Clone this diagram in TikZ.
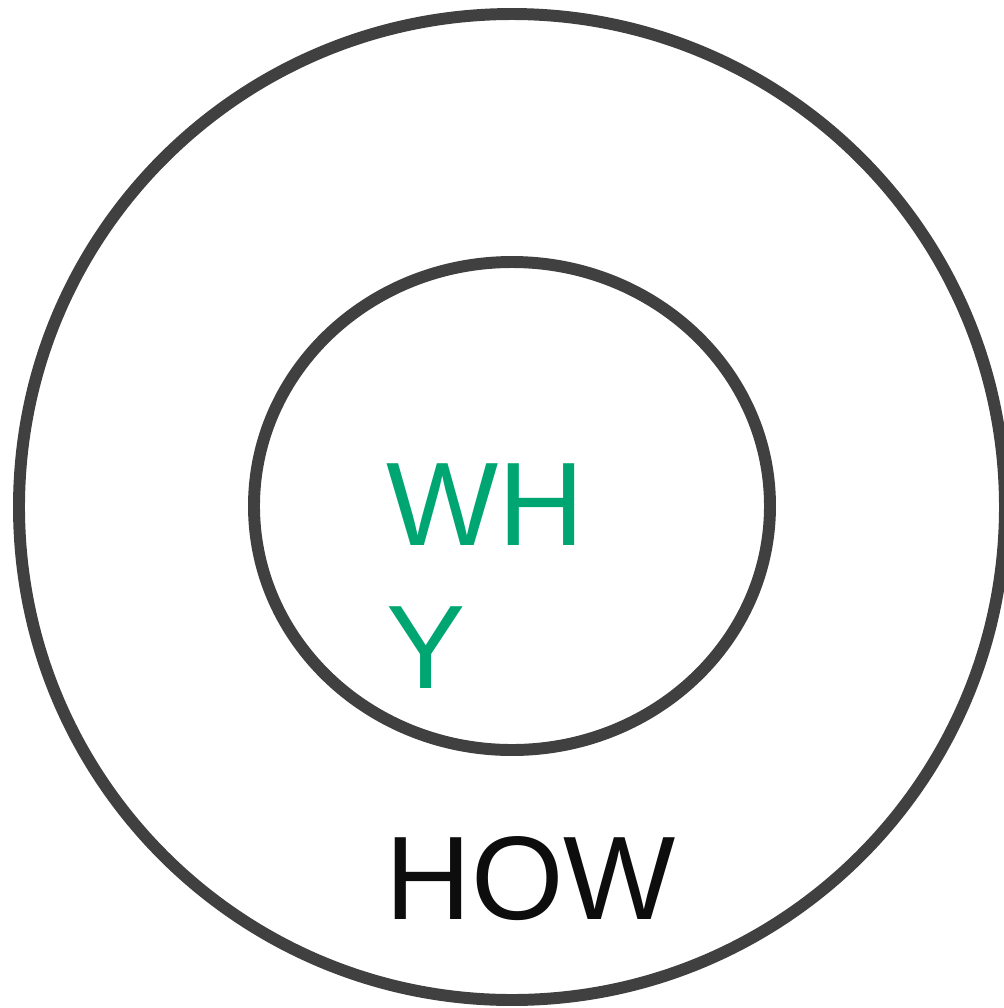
\documentclass[tikz,border=0pt]{standalone}
\usepackage{fontspec}
\setmainfont{Liberation Sans}
\usepackage{tikz}
\definecolor{ringgray}{HTML}{404040}
\definecolor{whygreen}{HTML}{00A672}
\tikzstyle{ring}=[draw=ringgray, line width=3.4pt]
\tikzstyle{label}=[inner sep=0pt, anchor=base west, font=\fontsize{33.8}{40.4}\selectfont]

\begin{document}
\begin{tikzpicture}[x=0.01cm, y=-0.01cm]
\useasboundingbox (0,0) rectangle (1004,1008);
%\draw[help lines] (0,0) grid[step=100] (1004,1008);
\draw [ring] (512,507) circle [radius=493];
\draw [ring] (512,506) ellipse [x radius=258, y radius=244];
\node [label, text=whygreen, align=left] (why) at (386,688) {WH\\Y};
\node [label, text=black!95] (how) at (384.6,919) {HOW};
\end{tikzpicture}
\end{document}
